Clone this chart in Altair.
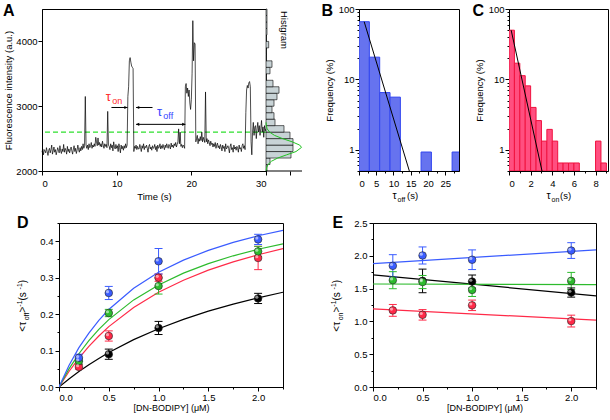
import altair as alt
import pandas as pd

FONT = "Liberation Sans"

# ---------------- Panel A : single-molecule trace ----------------
INTENSITY = [
    2290, 2340, 2250, 2330, 2310, 2280, 2360, 2300, 2240, 2320,
    2350, 2280, 2330, 2400, 2260, 2310, 2370, 2290, 2330, 2250,
    2300, 2360, 2320, 2280, 2390, 2310, 2270, 2340, 2300, 2410,
    2290, 2350, 2320, 2260, 2380, 2300, 2340, 2280, 2330, 2370,
    2310, 2260, 2340, 2390, 2300, 2350, 2270, 2320, 2400, 2330,
    2290, 2360, 2310, 2380, 2330, 2420, 2350, 2390, 3150, 2400,
    2350, 2400, 2330, 2420, 2360, 2380, 2440, 2350, 2400, 2370,
    2420, 2380, 2520, 2450, 2390, 2510, 2400, 2440, 2380, 2420,
    2370, 2460, 2400, 2350, 2420, 2380, 2410, 2360, 2920, 2400,
    2380, 2330, 2420, 2360, 2400, 2310, 2450, 2370, 2340, 2410,
    2350, 2390, 2300, 2420, 2360, 2280, 2400, 2340, 2380, 2320,
    2390, 2350, 2420, 2360, 2400, 3150, 3300, 3700, 3750, 3680,
    3620, 3600, 3580, 2300, 2380, 2350, 2400, 2330, 2380, 2340,
    2340, 2410, 2360, 2300, 2390, 2350, 2420, 2330, 2380, 2360,
    2400, 2350, 2290, 2380, 2410, 2340, 2370, 2320, 2390, 2350,
    2360, 2410, 2330, 2380, 2300, 2400, 2350, 2370, 2420, 2340,
    2390, 2350, 2410, 2370, 2330, 2400, 2360, 2420, 2380, 2350,
    2410, 2380, 2340, 2430, 2370, 2400, 2360, 2420, 2390, 2440,
    2370, 2410, 2450, 2650, 2420, 2600, 2380, 2410, 2360, 2400,
    2380, 2350, 3300, 3350, 3200, 3280, 3150, 3250, 3050, 2950,
    3100, 3500, 4320, 3700, 3980, 3960, 2450, 2500, 2550, 2420,
    2500, 2460, 2530, 2470, 2600, 2450, 2520, 2480, 2440, 3220,
    2450, 2500, 2420, 2480, 2440, 2390, 2460, 2410, 2430, 2370,
    2420, 2380, 2440, 2350, 2400, 2430, 2360, 2390, 2340, 2410,
    2370, 2310, 2400, 2350, 2380, 2300, 2420, 2340, 2360, 2390,
    2350, 2280, 2380, 2420, 2330, 2360, 2290, 2400, 2340, 2370,
    2320, 2380, 2350, 2290, 2400, 2340, 2360, 2300, 2390, 2420,
    2350, 2390, 2330, 2900, 3250, 3320, 3280, 3360, 3380, 3300,
    2450, 2250, 2600, 2750, 2550, 2680, 2700, 2500, 2650, 2750,
    2600, 2700, 2550, 2650, 2780, 2600, 2680, 2520, 2700, 2620,
    2650,
]
TIME = [round(i * 0.1, 1) for i in range(len(INTENSITY))]
THRESHOLD = 2600
A_X_TICKS = [0, 2.5, 5, 7.5, 10, 12.5, 15, 17.5, 20, 22.5, 25, 27.5, 30]
A_Y_TICKS = [2000, 2500, 3000, 3500, 4000, 4500]

ARROW_X1 = [9.3, 14.8, 12.6]
ARROW_X2 = [11.45, 12.6, 19.2]
ARROW_Y = [2980, 2980, 2720]
HEAD_R_X = [11.45, 19.2]
HEAD_R_Y = [2980, 2720]
HEAD_L_X = [12.6, 12.6]
HEAD_L_Y = [2980, 2720]

# intensity histogram (bin start, bar length)
HIST_LO = [2000, 2100, 2200, 2300, 2400, 2500, 2600, 2700, 2800, 2900,
           3000, 3100, 3200, 3300, 3400, 3500, 3600, 3700, 3800, 3900,
           4000, 4100, 4200, 4300, 4400]
HIST_LEN = [1, 4, 25, 27, 27, 24, 18, 9, 8, 6,
            8, 11, 13, 7, 0.5, 4, 6, 0.5, 0.5, 2.7,
            0.5, 1, 1, 1, 1]
GAUSS_I = [2000, 2050, 2100, 2150, 2200, 2250, 2300, 2364, 2400, 2450,
           2500, 2550, 2600, 2650, 2700, 2750]
GAUSS_LEN = [0.2, 0.6, 2.0, 5.4, 11.7, 20.7, 30, 35.5, 33.7, 26.2,
             16.5, 8.5, 3.6, 1.2, 0.3, 0.1]

# ---------------- Panel B : tau_off histogram ----------------
TOFF_START = [0, 3, 6, 9, 18, 27]
TOFF_END = [3, 6, 9, 12, 21, 30]
TOFF_FREQ = [66, 20.7, 6.5, 5.6, 0.93, 0.93]
TOFF_FIT_X = [1.5, 14.6]
TOFF_FIT_Y = [66, 0.5]
B_X_TICKS = [0, 2.5, 5, 7.5, 10, 12.5, 15, 17.5, 20, 22.5, 25, 27.5]

# ---------------- Panel C : tau_on histogram ----------------
TON_START = [0, 0.5, 1, 1.5, 2, 2.5, 3, 3.5, 4, 4.5, 5, 5.5, 6, 8, 8.5]
TON_END = [0.5, 1, 1.5, 2, 2.5, 3, 3.5, 4, 4.5, 5, 5.5, 6, 6.5, 8.5, 9]
TON_FREQ = [50, 17, 11.3, 8.1, 4.0, 2.6, 1.33, 1.95, 1.33, 0.65, 0.65, 0.65, 0.65, 1.33, 0.65]
TON_FIT_X = [0.2, 3.05]
TON_FIT_Y = [50, 0.5]
C_X_TICKS = [0, 1, 2, 3, 4, 5, 6, 7, 8, 9]

LOG_TICKS = [0.5, 0.6, 0.7, 0.8, 0.9, 1, 2, 3, 4, 5, 6, 7, 8, 9,
             10, 20, 30, 40, 50, 60, 70, 80, 90, 100]

# ---------------- Panels D and E ----------------
CONC = [0.2, 0.5, 1.0, 2.0]
CONC_BLACK = [0.5, 1.0, 2.0]
D_BLUE = [0.080, 0.258, 0.345, 0.405]
D_BLUE_ERR = [0.010, 0.018, 0.035, 0.014]
D_GREEN = [0.071, 0.203, 0.277, 0.372]
D_GREEN_ERR = [0.008, 0.010, 0.022, 0.014]
D_RED = [0.055, 0.140, 0.300, 0.354]
D_RED_ERR = [0.006, 0.014, 0.010, 0.032]
D_BLACK = [0.090, 0.162, 0.243]
D_BLACK_ERR = [0.014, 0.018, 0.014]

FIT_X = [0, 0.1, 0.2, 0.3, 0.4, 0.5, 0.75, 1.0, 1.25, 1.5, 1.75, 2.0, 2.25]
D_FIT_BLUE = [0, 0.059, 0.108, 0.148, 0.183, 0.2125, 0.271, 0.315, 0.348, 0.375, 0.397, 0.415, 0.430]
D_FIT_GREEN = [0, 0.0496, 0.0913, 0.127, 0.158, 0.185, 0.239, 0.280, 0.3125, 0.3385, 0.360, 0.378, 0.393]
D_FIT_RED = [0, 0.0425, 0.0794, 0.1117, 0.140, 0.1657, 0.2184, 0.260, 0.293, 0.3206, 0.3435, 0.363, 0.3797]
D_FIT_BLACK = [0, 0.0221, 0.0424, 0.0612, 0.0785, 0.0945, 0.130, 0.160, 0.1857, 0.208, 0.2275, 0.2447, 0.260]

E_BLUE = [1.847, 2.005, 1.94, 2.08]
E_BLUE_ERR = [0.17, 0.13, 0.15, 0.12]
E_GREEN = [1.628, 1.60, 1.48, 1.617]
E_GREEN_ERR = [0.13, 0.10, 0.10, 0.13]
E_RED = [1.168, 1.10, 1.245, 1.005]
E_RED_ERR = [0.09, 0.08, 0.08, 0.09]
E_BLACK = [1.617, 1.607, 1.44]
E_BLACK_ERR = [0.18, 0.10, 0.07]

E_FIT_X = [0, 2.25]
E_FIT_BLUE = [1.88, 2.09]
E_FIT_GREEN = [1.57, 1.56]
E_FIT_RED = [1.19, 1.02]
E_FIT_BLACK = [1.71, 1.39]

DE_X_TICKS = [0, 0.25, 0.5, 0.75, 1.0, 1.25, 1.5, 1.75, 2.0, 2.25]
D_Y_TICKS = [0, 0.05, 0.1, 0.15, 0.2, 0.25, 0.3, 0.35, 0.4, 0.45]
E_Y_TICKS = [0, 0.25, 0.5, 0.75, 1.0, 1.25, 1.5, 1.75, 2.0, 2.25, 2.5]

SERIES = ["black", "red", "green", "blue"]
POINT_COLORS = ["#151515", "#ee1d3a", "#1fae1f", "#2f4ef0"]
LINE_COLORS = ["#000000", "#ff2a48", "#2dbb2d", "#3a5cff"]


# ---------------- helpers ----------------
def tick_size(test, major=4, minor=2):
    return {"condition": {"test": test, "value": major}, "value": minor}


def label(text, x, y, size=10, color="black", angle=0, align="left",
          baseline="alphabetic", weight="normal"):
    return alt.Chart(alt.Data(values=[{}])).mark_text(
        text=text, font=FONT, fontSize=size, color=color, angle=angle,
        align=align, baseline=baseline, fontWeight=weight,
    ).encode(x=alt.value(x), y=alt.value(y))


def dlabel(text, x, y, size=10, color="black"):
    return alt.Chart(alt.Data(values=[{}])).mark_text(
        text=text, font=FONT, fontSize=size, color=color, align="left",
        baseline="alphabetic",
    ).encode(x=alt.datum(x), y=alt.datum(y))


def no_frame():
    return alt.ViewBackground(strokeOpacity=0)


def spacer(w, h):
    return alt.Chart(alt.Data(values=[])).mark_point().properties(
        width=w, height=h, view=no_frame())


# ---------------- Panel A ----------------
A_W, TOP_H = 224, 162

a_major_x = "datum.value % 5 === 0"
a_major_y = "datum.value % 1000 === 0"


def xA(field):
    return alt.X(f"{field}:Q", scale=alt.Scale(domain=[0, 30], nice=False, zero=False),
                 axis=alt.Axis(title="Time (s)", values=A_X_TICKS,
                               labelExpr=f"{a_major_x} ? datum.label : ''",
                               tickSize=tick_size(a_major_x), labelPadding=3, titlePadding=4))


def yA(field):
    return alt.Y(f"{field}:Q", scale=alt.Scale(domain=[2000, 4500], nice=False, zero=False),
                 axis=alt.Axis(title="Fluorescence intensity (a.u.)", values=A_Y_TICKS, format="d",
                               labelExpr=f"{a_major_y} ? datum.label : ''",
                               tickSize=tick_size(a_major_y), labelPadding=1, titlePadding=2))


trace_df = pd.DataFrame({"t": TIME, "I": INTENSITY})
trace = alt.Chart(trace_df).mark_line(color="black", strokeWidth=0.7).encode(x=xA("t"), y=yA("I"))
thr = alt.Chart(alt.Data(values=[{}])).mark_rule(
    color="#2ee02e", strokeDash=[5, 3], strokeWidth=1.2).encode(y=alt.datum(THRESHOLD))
arr_df = pd.DataFrame({"x1": ARROW_X1, "x2": ARROW_X2, "y": ARROW_Y})
arrows = alt.Chart(arr_df).mark_rule(color="black", strokeWidth=1).encode(
    x=xA("x1"), x2="x2:Q", y=yA("y"))
head_r = alt.Chart(pd.DataFrame({"x": HEAD_R_X, "y": HEAD_R_Y})).mark_point(
    shape="M0,0L-1,-0.5L-1,0.5Z", filled=True, color="black", size=40, opacity=1).encode(
    x=xA("x"), y=yA("y"))
head_l = alt.Chart(pd.DataFrame({"x": HEAD_L_X, "y": HEAD_L_Y})).mark_point(
    shape="M0,0L1,-0.5L1,0.5Z", filled=True, color="black", size=40, opacity=1).encode(
    x=xA("x"), y=yA("y"))

panelA = alt.layer(
    thr, trace, arrows, head_r, head_l,
    dlabel("τ", 8.55, 3080, size=13, color="#ff2a2a"),
    dlabel("on", 9.4, 3040, size=9, color="#ff2a2a"),
    dlabel("τ", 15.4, 2850, size=13, color="#3344ff"),
    dlabel("off", 16.25, 2805, size=9, color="#3344ff"),
    label("A", -39, 6.5, size=16, weight="bold"),
).properties(width=A_W, height=TOP_H)

hist_df = pd.DataFrame({"lo": HIST_LO, "len": HIST_LEN})
hist_df["hi"] = hist_df["lo"] + 100
H_W = 93  # includes the gap up to panel B
xH = alt.X("len:Q", scale=alt.Scale(domain=[0, H_W], nice=False),
           axis=alt.Axis(title=None, labels=False, values=[24], tickSize=4, domain=False))
yH = alt.Y("lo:Q", scale=alt.Scale(domain=[2000, 4500], nice=False, zero=False),
           axis=alt.Axis(title=None, labels=False, ticks=False))
hbars = alt.Chart(hist_df).mark_bar(fill="#c8d3d6", stroke="black", strokeWidth=0.6).encode(
    x=xH, x2=alt.datum(0), y=yH, y2="hi:Q")
gauss = alt.Chart(pd.DataFrame({"len": GAUSS_LEN, "lo": GAUSS_I})).mark_line(
    color="#22c322", strokeWidth=1, orient="horizontal").encode(
    x=xH, y=yH, order="lo:Q")
hbase = alt.Chart(alt.Data(values=[{}])).mark_rule(color="black", strokeWidth=1).encode(
    x=alt.value(0), x2=alt.value(36), y=alt.value(TOP_H))
panelH = alt.layer(
    hbars, gauss, hbase,
    label("Histgram", 15, 2, size=9.5, angle=90),
).properties(width=H_W, height=TOP_H, view=no_frame())

# ---------------- Panel B ----------------
B_W = 100
log_major = "datum.value === 1 || datum.value === 10 || datum.value === 100"


def yLog(field):
    return alt.Y(f"{field}:Q", scale=alt.Scale(type="log", domain=[0.5, 100], nice=False),
                 axis=alt.Axis(title="Frequency (%)", values=LOG_TICKS, format="~g",
                               labelExpr=f"({log_major}) ? datum.label : ''",
                               tickSize=tick_size(log_major), labelPadding=1, titlePadding=4))


b_major = "datum.value % 5 === 0"


def xB(field):
    return alt.X(f"{field}:Q", scale=alt.Scale(domain=[0, 29], nice=False),
                 axis=alt.Axis(title=None, values=B_X_TICKS,
                               labelExpr=f"{b_major} ? datum.label : ''",
                               tickSize=tick_size(b_major), labelPadding=3))


b_df = pd.DataFrame({"s": TOFF_START, "e": TOFF_END, "f": TOFF_FREQ})
b_bars = alt.Chart(b_df).mark_bar(fill="#6673ef", stroke="#3347f0", strokeWidth=1, clip=True).encode(
    x=xB("s"), x2="e:Q", y=yLog("f"), y2=alt.datum(0.5))
b_fit = alt.Chart(pd.DataFrame({"s": TOFF_FIT_X, "f": TOFF_FIT_Y})).mark_line(
    color="black", strokeWidth=1, clip=True).encode(x=xB("s"), y=yLog("f"))
panelB = alt.layer(
    b_bars, b_fit,
    label("B", -37.5, 7, size=16, weight="bold"),
    label("τ", 33.4, 190, size=10.5),
    label("off", 38.5, 193, size=7),
    label("(s)", 48, 190, size=9.5),
).properties(width=B_W, height=TOP_H)

# ---------------- Panel C ----------------
C_W = 99
c_major = "datum.value % 2 === 0"


def xC(field):
    return alt.X(f"{field}:Q", scale=alt.Scale(domain=[0, 9.15], nice=False),
                 axis=alt.Axis(title=None, values=C_X_TICKS,
                               labelExpr=f"{c_major} ? datum.label : ''",
                               tickSize=tick_size(c_major), labelPadding=3))


c_df = pd.DataFrame({"s": TON_START, "e": TON_END, "f": TON_FREQ})
c_bars = alt.Chart(c_df).mark_bar(fill="#ff4f80", stroke="#f0123f", strokeWidth=1, clip=True).encode(
    x=xC("s"), x2="e:Q", y=yLog("f"), y2=alt.datum(0.5))
c_fit = alt.Chart(pd.DataFrame({"s": TON_FIT_X, "f": TON_FIT_Y})).mark_line(
    color="black", strokeWidth=1, clip=True).encode(x=xC("s"), y=yLog("f"))
panelC = alt.layer(
    c_bars, c_fit,
    label("C", -36.5, 7, size=16, weight="bold"),
    label("τ", 37.4, 190, size=10.5),
    label("on", 42.5, 193, size=7),
    label("(s)", 51, 190, size=9.5),
).properties(width=C_W, height=TOP_H)

# ---------------- Panels D / E ----------------
BOT_H = 164
de_major_x = "round(datum.value * 100) % 50 === 0"


def xDE(field):
    return alt.X(f"{field}:Q", scale=alt.Scale(domain=[0, 2.25], nice=False),
                 axis=alt.Axis(title="[DN-BODIPY] (μM)", values=DE_X_TICKS,
                               labelExpr=f"{de_major_x} ? format(datum.value, '.1f') : ''",
                               tickSize=tick_size(de_major_x), labelPadding=1,
                               titlePadding=2, titleFontSize=9))


def make_y(field, domain, ticks, major):
    return alt.Y(f"{field}:Q", scale=alt.Scale(domain=domain, nice=False),
                 axis=alt.Axis(title=None, values=ticks,
                               labelExpr=f"{major} ? format(datum.value, '.1f') : ''",
                               tickSize=tick_size(major), labelPadding=2))


color_pts = alt.Color("s:N", scale=alt.Scale(domain=SERIES, range=POINT_COLORS), legend=None)
color_line = alt.Color("s:N", scale=alt.Scale(domain=SERIES, range=LINE_COLORS), legend=None)


def build_points(vals):
    rows = []
    for s, xs, ys, es in vals:
        for x, y, e in zip(xs, ys, es):
            rows.append({"s": s, "x": x, "y": y, "err": e})
    return pd.DataFrame(rows)


def build_fits(xs, fits):
    rows = []
    for s, ys in fits:
        for x, y in zip(xs, ys):
            rows.append({"s": s, "x": x, "y": y})
    return pd.DataFrame(rows)


def kinetic_panel(pts_df, fit_df, domain, ticks, major, width, letter, letter_x, sub):
    Y = lambda f: make_y(f, domain, ticks, major)
    base = alt.Chart(pts_df).transform_calculate(
        lo="datum.y - datum.err", hi="datum.y + datum.err",
        xl="datum.x - 0.04", xr="datum.x + 0.04")
    fits = alt.Chart(fit_df).mark_line(strokeWidth=1.2, clip=True).encode(
        x=xDE("x"), y=Y("y"), color=color_line, detail="s:N")
    bars = base.mark_rule(strokeWidth=1).encode(x=xDE("x"), y=Y("lo"), y2="hi:Q", color=color_pts)
    cap_hi = base.mark_rule(strokeWidth=1).encode(x=xDE("xl"), x2="xr:Q", y=Y("hi"), color=color_pts)
    cap_lo = base.mark_rule(strokeWidth=1).encode(x=xDE("xl"), x2="xr:Q", y=Y("lo"), color=color_pts)
    pts = base.mark_point(filled=True, size=58, opacity=1, stroke="#222222", strokeWidth=0.6).encode(
        x=xDE("x"), y=Y("y"), color=color_pts)
    shine = base.mark_point(filled=True, size=10, opacity=0.55, color="white",
                            xOffset=-1.3, yOffset=-1.3).encode(x=xDE("x"), y=Y("y"))
    ax = -33
    title_parts = [
        label("<τ", ax, 108.7, size=10, angle=270),
        label(sub, ax + 3, 97.3, size=7, angle=270),
        label(">", ax, 89.5, size=10, angle=270),
        label("-1", ax - 4.5, 83.7, size=7, angle=270),
        label(" (s", ax, 77.5, size=10, angle=270),
        label("-1", ax - 4.5, 66.4, size=7, angle=270),
        label(")", ax, 60.2, size=10, angle=270),
    ]
    return alt.layer(
        fits, bars, cap_hi, cap_lo, pts, shine,
        label(letter, letter_x, 4.5, size=16, weight="bold"),
        *title_parts,
    ).properties(width=width, height=BOT_H)


d_pts = build_points([
    ("black", CONC_BLACK, D_BLACK, D_BLACK_ERR),
    ("red", CONC, D_RED, D_RED_ERR),
    ("green", CONC, D_GREEN, D_GREEN_ERR),
    ("blue", CONC, D_BLUE, D_BLUE_ERR),
])
d_fit = build_fits(FIT_X, [("black", D_FIT_BLACK), ("red", D_FIT_RED),
                           ("green", D_FIT_GREEN), ("blue", D_FIT_BLUE)])
e_pts = build_points([
    ("black", CONC_BLACK, E_BLACK, E_BLACK_ERR),
    ("red", CONC, E_RED, E_RED_ERR),
    ("green", CONC, E_GREEN, E_GREEN_ERR),
    ("blue", CONC, E_BLUE, E_BLUE_ERR),
])
e_fit = build_fits(E_FIT_X, [("black", E_FIT_BLACK), ("red", E_FIT_RED),
                             ("green", E_FIT_GREEN), ("blue", E_FIT_BLUE)])

panelD = kinetic_panel(d_pts, d_fit, [0, 0.45], D_Y_TICKS,
                       "round(datum.value * 100) % 10 === 0", 224, "D", -42, "off")
panelE = kinetic_panel(e_pts, e_fit, [0, 2.5], E_Y_TICKS,
                       "round(datum.value * 100) % 50 === 0", 223, "E", -40.5, "on")

top = alt.hconcat(panelA, panelH, panelB, spacer(50, TOP_H), panelC,
                  spacing=0, bounds="flush")
bottom = alt.hconcat(spacer(17, BOT_H), panelD, spacer(90, BOT_H), panelE,
                     spacing=0, bounds="flush")

chart = alt.vconcat(top, bottom, spacing=10).properties(
    padding={"left": 2, "top": 2, "right": 0, "bottom": 0},
    background="white",
).configure_view(
    stroke="black", strokeWidth=1,
).configure_axis(
    labelFont=FONT, labelFontSize=9.5, labelColor="black",
    titleFont=FONT, titleFontSize=9.5, titleFontWeight="normal", titleColor="black",
    domainColor="black", tickColor="black", grid=False,
)

chart.save("out.html", embed_options={"renderer": "svg", "actions": False})
